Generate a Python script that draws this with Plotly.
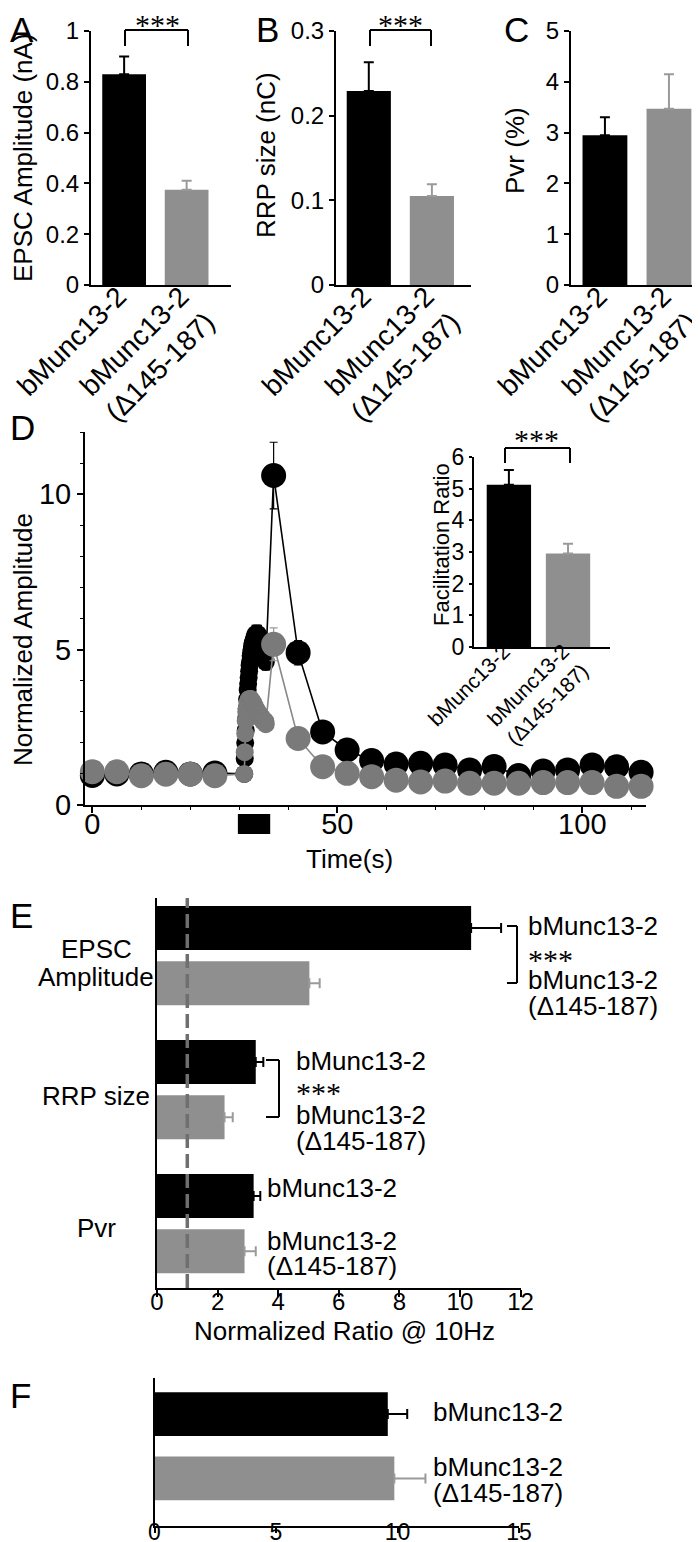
import plotly.graph_objects as go

W, H = 700, 1542
FONT = "Arial, 'Liberation Sans', Helvetica, sans-serif"
STAR = "'Liberation Serif', 'Times New Roman', serif"
BLACK = "#000000"
GRAY_BAR = "#8f8f8f"
GRAY_ERR = "#9a9a9a"
GRAY_PT = "#7a7a7a"
GRAY_LN = "#888888"
DASH_COL = "#6f6f6f"

# ---------------- data ----------------
groups = ["bMunc13-2", "bMunc13-2<br>(Δ145-187)"]
epsc_mean = [0.83, 0.375]
epsc_sem = [0.07, 0.035]
rrp_mean = [0.229, 0.105]
rrp_sem = [0.034, 0.014]
pvr_mean = [2.95, 3.47]
pvr_sem = [0.35, 0.68]
fac_mean = [5.12, 2.95]
fac_sem = [0.47, 0.31]

time_pre = [0, 5, 10, 15, 20, 25]
time_train = [31.0, 31.1, 31.2, 31.3, 31.4, 31.5, 31.6, 31.7, 31.8, 31.9,
              32.0, 32.1, 32.2, 32.3, 32.4, 32.5, 32.6, 32.7, 32.8, 32.9,
              33.0, 33.1, 33.2, 33.3, 33.4, 33.5, 33.6, 33.7, 33.8, 33.9,
              34.0, 34.1, 34.2, 34.3, 34.4, 34.5, 34.6, 34.7, 34.8, 34.9,
              35.0, 35.1, 35.2, 35.3, 35.4]
time_post = [37, 42, 47, 52, 57, 62, 67, 72, 77, 82, 87, 92, 97, 102, 107, 112]

wt_pre = [0.95, 1.0, 1.0, 1.05, 1.0, 1.03]
wt_pre_sem = [0.05, 0.04, 0.05, 0.05, 0.04, 0.05]
wt_train = [1.0, 1.5, 2.0, 2.4, 2.8, 3.1, 3.4, 3.7, 3.9, 4.1,
            4.3, 4.5, 4.6, 4.8, 4.9, 5.0, 5.1, 5.2, 5.2, 5.3,
            5.3, 5.4, 5.4, 5.5, 5.4, 5.5, 5.5, 5.4, 5.5, 5.4,
            5.4, 5.3, 5.3, 5.2, 5.2, 5.1, 5.0, 5.0, 4.9, 4.9,
            4.8, 4.8, 4.7, 4.7, 4.6]
wt_train_sem = [0.05, 0.08, 0.10, 0.12, 0.14, 0.16, 0.18, 0.20, 0.20, 0.22,
                0.22, 0.24, 0.24, 0.25, 0.25, 0.26, 0.26, 0.27, 0.27, 0.28,
                0.28, 0.28, 0.28, 0.28, 0.28, 0.28, 0.28, 0.28, 0.28, 0.28,
                0.28, 0.28, 0.28, 0.27, 0.27, 0.27, 0.27, 0.26, 0.26, 0.26,
                0.26, 0.25, 0.25, 0.25, 0.25]
wt_post = [10.6, 4.9, 2.35, 1.77, 1.43, 1.32, 1.34, 1.29, 1.13, 1.24,
           0.95, 1.09, 1.13, 1.29, 1.23, 1.05]
wt_post_sem = [1.07, 0.39, 0.2, 0.15, 0.12, 0.1, 0.1, 0.1, 0.1, 0.1,
               0.1, 0.1, 0.1, 0.1, 0.1, 0.1]

mut_pre = [1.07, 1.07, 0.94, 0.99, 0.99, 0.94]
mut_pre_sem = [0.05, 0.05, 0.04, 0.05, 0.04, 0.05]
mut_train = [1.0, 1.7, 2.3, 2.7, 3.0, 3.1, 3.2, 3.3, 3.3, 3.4,
             3.4, 3.4, 3.4, 3.4, 3.4, 3.3, 3.3, 3.3, 3.3, 3.2,
             3.2, 3.2, 3.1, 3.1, 3.1, 3.0, 3.0, 3.0, 3.0, 2.9,
             2.9, 2.9, 2.9, 2.8, 2.8, 2.8, 2.8, 2.8, 2.7, 2.7,
             2.7, 2.7, 2.7, 2.7, 2.6]
mut_train_sem = [0.05, 0.10, 0.15, 0.18, 0.20, 0.22, 0.22, 0.24, 0.24, 0.25,
                 0.25, 0.25, 0.25, 0.25, 0.25, 0.25, 0.25, 0.25, 0.24, 0.24,
                 0.24, 0.24, 0.23, 0.23, 0.23, 0.22, 0.22, 0.22, 0.22, 0.21,
                 0.21, 0.21, 0.21, 0.20, 0.20, 0.20, 0.20, 0.20, 0.20, 0.20,
                 0.20, 0.20, 0.20, 0.20, 0.20]
mut_post = [5.17, 2.14, 1.23, 1.02, 0.91, 0.8, 0.74, 0.77, 0.7, 0.7,
            0.7, 0.72, 0.72, 0.72, 0.6, 0.6]
mut_post_sem = [0.53, 0.15, 0.1, 0.08, 0.07, 0.07, 0.07, 0.07, 0.07, 0.07,
                0.07, 0.07, 0.07, 0.07, 0.07, 0.07]

stim_window = [29.7, 36.3]

e_cats = ["EPSC Amplitude", "RRP size", "Pvr"]
e_wt = [10.37, 3.26, 3.19]
e_wt_sem = [0.99, 0.25, 0.22]
e_mut = [5.03, 2.23, 2.89]
e_mut_sem = [0.34, 0.27, 0.37]
e_baseline = 1.0

f_cats = ["bMunc13-2", "bMunc13-2 (Δ145-187)"]
f_vals = [9.6, 9.87]
f_sem = [0.8, 1.28]


# ---------------- helpers ----------------
def PX(x):
    return x / W


def PY(y):
    return 1 - y / H


def dom_x(a, b):
    return [a / W, b / W]


def dom_y(top, bottom):
    return [1 - bottom / H, 1 - top / H]


def ax(**kw):
    base = dict(showline=True, linecolor=BLACK, linewidth=2, showgrid=False,
                zeroline=False, ticks="outside", tickcolor=BLACK, tickwidth=2,
                ticklen=5, tickfont=dict(family=FONT, size=24, color=BLACK),
                fixedrange=True, mirror=False, automargin=False)
    base.update(kw)
    return base


fig = go.Figure()
colors = [BLACK, GRAY_BAR]
err_colors = [BLACK, GRAY_ERR]

# ---------------- panels A, B, C and D inset ----------------
bar_panels = [("x", "y", epsc_mean, epsc_sem),
              ("x2", "y2", rrp_mean, rrp_sem),
              ("x3", "y3", pvr_mean, pvr_sem),
              ("x5", "y5", fac_mean, fac_sem)]
for xa, ya, means, sems in bar_panels:
    for i in range(2):
        fig.add_trace(go.Bar(
            x=[groups[i]], y=[means[i]], xaxis=xa, yaxis=ya,
            width=0.7 if xa != "x5" else 0.75,
            marker=dict(color=colors[i], line=dict(width=0)),
            error_y=dict(type="data", array=[sems[i]], arrayminus=[0],
                         symmetric=False, color=err_colors[i], thickness=2,
                         width=5),
            showlegend=False, hoverinfo="skip"))

# ---------------- panel D time course ----------------
t_all = time_pre + time_train + time_post
sizes = [25] * len(time_pre) + [18] * len(time_train) + [25] * len(time_post)
series = [
    (wt_pre + wt_train + wt_post, wt_pre_sem + wt_train_sem + wt_post_sem,
     BLACK, BLACK, BLACK),
    (mut_pre + mut_train + mut_post, mut_pre_sem + mut_train_sem + mut_post_sem,
     GRAY_PT, GRAY_LN, GRAY_ERR),
]
for vals, sems, mcol, lcol, ecol in series:
    fig.add_trace(go.Scatter(
        x=t_all, y=vals, xaxis="x4", yaxis="y4", mode="lines+markers",
        line=dict(color=lcol, width=1.6),
        marker=dict(color=mcol, size=sizes, opacity=1, line=dict(width=0)),
        error_y=dict(type="data", array=sems, color=ecol, thickness=1.2,
                     width=4),
        showlegend=False, hoverinfo="skip", cliponaxis=False))

# ---------------- panel E ----------------
fig.add_trace(go.Bar(
    y=e_cats, x=e_wt, orientation="h", xaxis="x6", yaxis="y6",
    width=0.328, offset=-0.37, marker=dict(color=BLACK, line=dict(width=0)),
    error_x=dict(type="data", array=e_wt_sem, arrayminus=[0, 0, 0],
                 symmetric=False, color=BLACK, thickness=2, width=5),
    showlegend=False, hoverinfo="skip"))
fig.add_trace(go.Bar(
    y=e_cats, x=e_mut, orientation="h", xaxis="x6", yaxis="y6",
    width=0.328, offset=0.042, marker=dict(color=GRAY_BAR, line=dict(width=0)),
    error_x=dict(type="data", array=e_mut_sem, arrayminus=[0, 0, 0],
                 symmetric=False, color=GRAY_ERR, thickness=2, width=5),
    showlegend=False, hoverinfo="skip"))

# ---------------- panel F ----------------
for i in range(2):
    fig.add_trace(go.Bar(
        y=[f_cats[i]], x=[f_vals[i]], orientation="h", xaxis="x7", yaxis="y7",
        width=0.68, marker=dict(color=colors[i], line=dict(width=0)),
        error_x=dict(type="data", array=[f_sem[i]], arrayminus=[0],
                     symmetric=False, color=err_colors[i], thickness=2, width=5),
        showlegend=False, hoverinfo="skip"))

# ---------------- axes ----------------
cat_font = dict(family=FONT, size=28, color=BLACK)
cat_kw = dict(type="category", categoryorder="array", categoryarray=groups,
              ticks="", tickangle=-45, ticklabelstandoff=-18,
              ticklabelshift=-6)
layout_axes = dict(
    xaxis=ax(domain=dom_x(83, 223), anchor="y", range=[-0.53, 1.71],
             tickfont=cat_font, **cat_kw),
    yaxis=ax(domain=dom_y(23, 277), anchor="x", range=[0, 1], dtick=0.2),
    xaxis2=ax(domain=dom_x(328, 463), anchor="y2", range=[-0.52, 1.62],
              tickfont=cat_font, **cat_kw),
    yaxis2=ax(domain=dom_y(23, 277), anchor="x2", range=[0, 0.3], dtick=0.1),
    xaxis3=ax(domain=dom_x(563, 700), anchor="y3", range=[-0.53, 1.61],
              tickfont=cat_font, **cat_kw),
    yaxis3=ax(domain=dom_y(23, 277), anchor="x3", range=[0, 5], dtick=1),
    xaxis4=ax(domain=dom_x(77, 638), anchor="y4", range=[-1.5, 113],
              dtick=50, ticklen=6, ticklabelstandoff=-14,
              tickfont=dict(family=FONT, size=29, color=BLACK),
              minor=dict(dtick=10, ticklen=3, tickwidth=1, ticks="outside",
                         tickcolor=BLACK)),
    yaxis4=ax(domain=dom_y(424, 797), anchor="x4", range=[0, 12], dtick=5,
              ticklen=6, tickfont=dict(family=FONT, size=29, color=BLACK),
              minor=dict(dtick=1, ticklen=3, tickwidth=1, ticks="outside",
                         tickcolor=BLACK)),
    xaxis5=ax(domain=dom_x(466, 602), anchor="y5", range=[-0.59, 1.71],
              tickfont=dict(family=FONT, size=21, color=BLACK),
              **dict(cat_kw, ticklabelstandoff=-18, ticklabelshift=-5)),
    yaxis5=ax(domain=dom_y(449, 639), anchor="x5", range=[0, 6], dtick=1,
              ticklen=3, tickfont=dict(family=FONT, size=23, color=BLACK)),
    xaxis6=ax(domain=dom_x(149, 512.5), anchor="y6", range=[0, 12], dtick=2,
              ticklen=7, ticklabelstandoff=-16),
    yaxis6=ax(domain=dom_y(890, 1280), anchor="x6", type="category",
              categoryorder="array", categoryarray=e_cats, range=[2.48, -0.43],
              ticks="", showticklabels=False),
    xaxis7=ax(domain=dom_x(146.5, 511), anchor="y7", range=[0, 15], dtick=5,
              ticklen=5, ticklabelstandoff=-21,
              tickfont=dict(family=FONT, size=23, color=BLACK)),
    yaxis7=ax(domain=dom_y(1370, 1518), anchor="x7", type="category",
              categoryorder="array", categoryarray=f_cats, range=[1.74, -0.56],
              ticks="", showticklabels=False),
)

# ---------------- shapes ----------------
shapes = []


def seg(x0, y0, x1, y1, w=2, color=BLACK):
    shapes.append(dict(type="line", x0=PX(x0), y0=PY(y0), x1=PX(x1), y1=PY(y1),
                       xref="paper", yref="paper",
                       line=dict(color=color, width=w), layer="above"))


def top_bracket(xl, xr, y_top, y_arm):
    seg(xl, y_arm, xl, y_top)
    seg(xl, y_top, xr, y_top)
    seg(xr, y_top, xr, y_arm)


top_bracket(117, 180, 22, 38)
top_bracket(362, 423, 22, 38)
top_bracket(497, 562, 440, 455)


def side_bracket(x_stub, x_line, y_top, y_bot):
    seg(x_stub, y_top, x_line, y_top)
    seg(x_line, y_top, x_line, y_bot)
    seg(x_line, y_bot, x_stub, y_bot)


side_bracket(499, 509, 918, 975)
side_bracket(258, 271, 1052, 1109)

# stimulus bar under panel D
shapes.append(dict(type="rect", xref="x4", yref="paper",
                   x0=stim_window[0], x1=stim_window[1],
                   y0=PY(826), y1=PY(806), fillcolor=BLACK,
                   line=dict(width=0), layer="above"))
# dashed reference line in E
shapes.append(dict(type="line", xref="x6", yref="y6 domain", x0=e_baseline,
                   x1=e_baseline, y0=0, y1=1,
                   line=dict(color=DASH_COL, width=3.5, dash="14px,6px"),
                   layer="above"))

# ---------------- annotations ----------------
ann = []


def text(x, y, s, size=26, xanchor="center", yanchor="middle", angle=0,
         family=FONT):
    ann.append(dict(x=PX(x), y=PY(y), xref="paper", yref="paper", text=s,
                    showarrow=False, xanchor=xanchor, yanchor=yanchor,
                    textangle=angle,
                    font=dict(family=family, size=size, color=BLACK)))


# panel letters
for letter, lx, ly in [("A", 0, 0), ("B", 246, 0), ("C", 494, 0),
                       ("D", 0, 398), ("E", 0, 886), ("F", 0, 1366)]:
    text(lx, ly, letter, size=35, xanchor="left", yanchor="top")

# axis titles
text(15, 150, "EPSC Amplitude (nA)", angle=-90)
text(258, 147, "RRP size (nC)", angle=-90)
text(507, 143, "Pvr (%)", angle=-90)
text(15, 632, "Normalized Amplitude", angle=-90)
text(433, 537, "Facilitation Ratio", size=22, angle=-90)
text(341, 851, "Time(s)")
text(336, 1323, "Normalized Ratio @ 10Hz")

# significance stars
text(149, 17, "***", size=30, family=STAR)
text(392, 17, "***", size=30, family=STAR)
text(528, 431, "***", size=30, family=STAR)
text(518, 951, "***", size=30, family=STAR, xanchor="left")
text(286, 1084, "***", size=30, family=STAR, xanchor="left")

# E category labels
text(88, 941, "EPSC")
text(88, 969, "Amplitude")
text(88, 1088, "RRP size")
text(88, 1220, "Pvr")

# E / F group labels
text(518, 918, "bMunc13-2", xanchor="left")
text(518, 972, "bMunc13-2", xanchor="left")
text(518, 998, "(Δ145-187)", xanchor="left")
text(286, 1053, "bMunc13-2", xanchor="left")
text(286, 1107, "bMunc13-2", xanchor="left")
text(286, 1133, "(Δ145-187)", xanchor="left")
text(257, 1180, "bMunc13-2", xanchor="left")
text(257, 1233, "bMunc13-2", xanchor="left")
text(257, 1258, "(Δ145-187)", xanchor="left")
text(423, 1404, "bMunc13-2", xanchor="left")
text(423, 1459, "bMunc13-2", xanchor="left")
text(423, 1485, "(Δ145-187)", xanchor="left")

fig.update_layout(
    template="none",
    width=W, height=H,
    margin=dict(l=0, r=0, t=0, b=0, pad=0, autoexpand=False),
    paper_bgcolor="white", plot_bgcolor="rgba(0,0,0,0)",
    barmode="overlay", showlegend=False,
    font=dict(family=FONT, color=BLACK),
    shapes=shapes, annotations=ann,
    **layout_axes)

fig.write_html("out.html")
